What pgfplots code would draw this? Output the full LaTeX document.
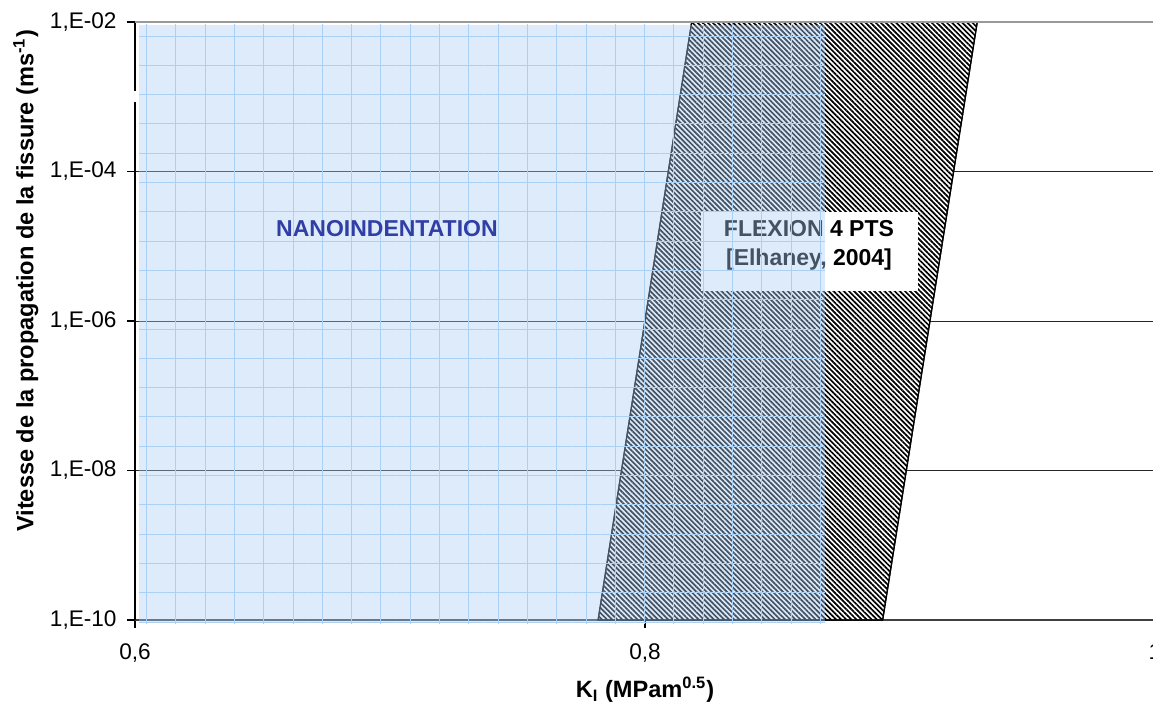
\documentclass[border=0pt]{standalone}
\usepackage{fontspec}
\setmainfont{Liberation Sans}
\usepackage{pgfplots}
\pgfplotsset{compat=1.18}
\usetikzlibrary{patterns.meta}
\definecolor{veil}{RGB}{170,205,243}
\definecolor{veilgrid}{RGB}{170,208,246}
\definecolor{nanoblue}{RGB}{48,62,165}

\begin{document}
\begin{tikzpicture}
\begin{axis}[
  scale only axis, width=510pt, height=299pt,
  xmin=0.6, xmax=1, ymode=log, ymin=1e-10, ymax=1e-2,
  axis x line*=bottom, axis y line*=left,
  x axis line style={draw=black!75, line width=1pt},
  y axis line style={black, line width=0.9pt},
  xtick={0.6,0.8,1}, xticklabels={{0,6},{0,8},1},
  ytick={1e-10,1e-8,1e-6,1e-4,1e-2},
  yticklabels={{1,E-10},{1,E-08},{1,E-06},{1,E-04},{1,E-02}},
  yminorticks=false, xminorticks=false,
  tick align=outside, major tick length=4pt,
  tick style={black, line width=0.6pt},
  ymajorgrids, major grid style={black!85, line width=0.5pt},
  ticklabel style={font=\fontsize{11.3}{13}\selectfont},
  xticklabel style={yshift=-4.5pt},
  yticklabel style={xshift=-1.7pt},
  xlabel={K\textsubscript{I} (MPam\textsuperscript{0.5})},
  ylabel={Vitesse de la propagation de la fissure (ms\textsuperscript{-1})},
  label style={font=\fontsize{11.8}{13}\bfseries\selectfont},
  xlabel style={at={(axis description cs:0.5,-0.117)}, anchor=center},
  ylabel style={at={(axis description cs:-0.107,0.567)}, anchor=center},
  clip=false,
]
% bande flexion 4 points (hachures)
\addplot[draw=black, line width=0.6pt, fill=white,
  postaction={pattern={Lines[angle=-45,distance=1.8pt,line width=0.85pt]}}]
  coordinates {(0.7816,1e-10) (0.8932,1e-10) (0.9303,1e-2) (0.8183,1e-2)} -- cycle;

\fill[white] (axis cs:0.8218,2.87e-5) rectangle (axis cs:0.9071,2.52e-6);
\node[font=\fontsize{11.5}{14.5}\bfseries\selectfont, align=center]
  at (axis cs:0.8643,1.04e-5) {FLEXION 4 PTS\\{[}Elhaney, 2004{]}};

% zone nanoindentation
\addplot[draw=none, fill=veil, fill opacity=0.4]
  coordinates {(0.6016,9.12e-11) (0.8706,9.12e-11) (0.8706,9.12e-3) (0.6016,9.12e-3)} -- cycle;
\addplot[draw=none, fill opacity=0.4,
  pattern={Hatch[angle=0,distance=14.65pt,line width=0.5pt]}, pattern color=veilgrid]
  coordinates {(0.6016,9.12e-11) (0.8706,9.12e-11) (0.8706,9.12e-3) (0.6016,9.12e-3)} -- cycle;

\node[font=\fontsize{11.5}{13}\bfseries\selectfont, text=nanoblue]
  at (axis cs:0.6988,1.70e-5) {NANOINDENTATION};

\draw[gray!80, line width=0.6pt] (axis cs:0.6,1e-2) -- (axis cs:1,1e-2);
\fill[white] ([xshift=-1.5pt]axis cs:0.6,1.19e-3) rectangle ([xshift=1pt]axis cs:0.6,8.5e-4);

\coordinate (ll) at (rel axis cs:0,0);
\coordinate (ur) at (rel axis cs:1,1);
\end{axis}
\pgfresetboundingbox
\useasboundingbox ([xshift=-67.5pt,yshift=-45pt]ll) rectangle ([xshift=-1pt,yshift=11pt]ur);
\end{tikzpicture}
\end{document}
